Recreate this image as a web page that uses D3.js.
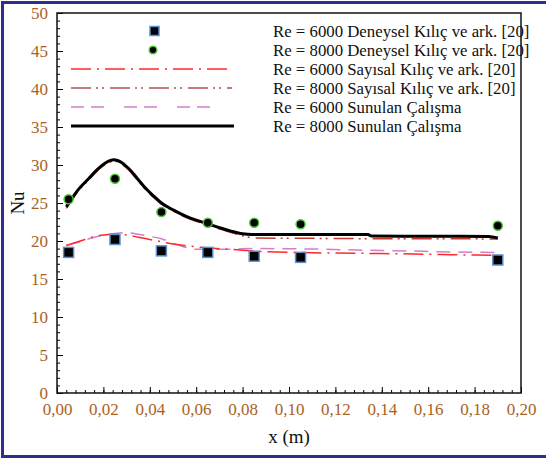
<!DOCTYPE html>
<html>
<head>
<meta charset="utf-8">
<script src="https://cdn.jsdelivr.net/npm/d3@7"></script>
<style>
  body { margin: 0; background: #fff; }
  svg text { font-family: "Liberation Serif", "Times New Roman", serif; }
</style>
</head>
<body>
<div id="nu_chart"></div>
<script>
// experimental points (x in m, Nu)
const expX = [0.005, 0.025, 0.045, 0.065, 0.085, 0.105, 0.19];
const exp6000 = [18.5, 20.2, 18.7, 18.5, 18.0, 17.85, 17.5];
const exp8000 = [25.5, 28.2, 23.8, 22.4, 22.4, 22.2, 22.0];

// numerical curves from Kılıç et al.
const num6000X = [0.004, 0.01, 0.015, 0.02, 0.025, 0.03, 0.035, 0.04, 0.045, 0.05, 0.055, 0.065, 0.075, 0.09, 0.11, 0.14, 0.17, 0.19];
const num6000Y = [19.4, 20.0, 20.5, 20.8, 20.9, 20.8, 20.5, 20.2, 19.9, 19.6, 19.4, 19.1, 18.9, 18.6, 18.45, 18.35, 18.2, 18.1];
const num8000X = [0.004, 0.006, 0.009, 0.0136, 0.017, 0.021, 0.0245, 0.028, 0.031, 0.0347, 0.038, 0.0417, 0.045, 0.05, 0.0557, 0.06, 0.065, 0.07, 0.075, 0.08, 0.085, 0.11, 0.14, 0.17, 0.19];
const num8000Y = [24.3, 25.2, 26.5, 28.0, 29.1, 30.1, 30.5, 30.1, 29.3, 28.0, 26.8, 25.7, 24.85, 23.95, 23.1, 22.6, 22.1, 21.6, 21.1, 20.7, 20.4, 20.35, 20.3, 20.3, 20.25];

// present study
const sun6000X = [0.004, 0.01, 0.015, 0.02, 0.025, 0.03, 0.035, 0.04, 0.045, 0.05, 0.055, 0.06, 0.07, 0.085, 0.11, 0.13, 0.15, 0.17, 0.19];
const sun6000Y = [19.4, 19.9, 20.4, 20.8, 21.0, 21.1, 20.9, 20.6, 20.3, 19.7, 19.2, 18.9, 18.9, 19.0, 18.95, 18.8, 18.7, 18.55, 18.5];
const sun8000X = [0.004, 0.006, 0.009, 0.0136, 0.017, 0.021, 0.0245, 0.028, 0.031, 0.0347, 0.038, 0.0417, 0.045, 0.05, 0.0557, 0.06, 0.065, 0.07, 0.075, 0.08, 0.084, 0.134, 0.1355, 0.186, 0.19];
const sun8000Y = [24.5, 25.4, 26.7, 28.2, 29.3, 30.3, 30.7, 30.3, 29.5, 28.2, 27.0, 25.9, 25.0, 24.1, 23.25, 22.75, 22.25, 21.75, 21.3, 20.95, 20.85, 20.85, 20.65, 20.6, 20.4];

const xTicks = [0, 0.02, 0.04, 0.06, 0.08, 0.10, 0.12, 0.14, 0.16, 0.18, 0.20];
const yTicks = [0, 5, 10, 15, 20, 25, 30, 35, 40, 45, 50];

const legendLabels = [
  "Re = 6000 Deneysel Kılıç ve ark. [20]",
  "Re = 8000 Deneysel Kılıç ve ark. [20]",
  "Re = 6000 Sayısal Kılıç ve ark. [20]",
  "Re = 8000 Sayısal Kılıç ve ark. [20]",
  "Re = 6000 Sunulan Çalışma",
  "Re = 8000 Sunulan Çalışma"
];

let width = 546,
    height = 459,
    margin = { top: 13, right: 14, bottom: 66, left: 57 };

const serif = "'Liberation Serif', 'Times New Roman', serif";

const svg = d3.select("#nu_chart")
  .append("svg")
  .attr("width", width)
  .attr("height", height);

// outer frame
svg.append("rect")
  .attr("x", 2.5).attr("y", 2.5)
  .attr("width", width + 10).attr("height", 454)
  .attr("fill", "none")
  .attr("stroke", "#2e2f8c")
  .attr("stroke-width", 3);

let x = d3.scaleLinear()
  .domain([0, 0.2])
  .range([margin.left, width - margin.right - 11]);

let y = d3.scaleLinear()
  .domain([0, 50])
  .range([height - margin.bottom, margin.top]);

const tickColor = "#a8621f";

// minor ticks
svg.append("g")
  .attr("transform", `translate(${margin.left},0)`)
  .call(d3.axisLeft(y).tickValues(d3.range(0, 51, 1)).tickSize(-3).tickFormat(""))
  .call(g => g.select(".domain").remove());

svg.append("g")
  .attr("transform", `translate(0,${y(0)})`)
  .call(d3.axisBottom(x).tickValues(d3.range(0, 51).map(i => i * 0.004)).tickSize(-3).tickFormat(""))
  .call(g => g.select(".domain").remove());

// major ticks + labels
svg.append("g")
  .attr("class", "y-axis")
  .attr("transform", `translate(${margin.left},0)`)
  .call(d3.axisLeft(y).tickValues(yTicks).tickSize(-6).tickPadding(9).tickFormat(d3.format("d")))
  .call(g => g.select(".domain").remove())
  .attr("font-family", serif)
  .attr("font-size", 17)
  .selectAll("text")
    .attr("fill", tickColor);

svg.append("g")
  .attr("class", "x-axis")
  .attr("transform", `translate(0,${y(0)})`)
  .call(d3.axisBottom(x).tickValues(xTicks).tickSize(-6).tickPadding(10)
    .tickFormat(d => d3.format(".2f")(d).replace(".", ",")))
  .call(g => g.select(".domain").remove())
  .attr("font-family", serif)
  .attr("font-size", 17)
  .selectAll("text")
    .attr("fill", tickColor);

// plot box
svg.append("rect")
  .attr("x", x(0)).attr("y", y(50))
  .attr("width", x(0.2) - x(0)).attr("height", y(0) - y(50))
  .attr("fill", "none")
  .attr("stroke", "#111")
  .attr("stroke-width", 1.5);

const line = d3.line()
  .x(d => x(d[0]))
  .y(d => y(d[1]))
  .curve(d3.curveMonotoneX);

const series = [
  { xs: sun6000X, ys: sun6000Y, color: "#d37fcb", width: 1.5, dash: "14,8" },
  { xs: num6000X, ys: num6000Y, color: "#ff2a2a", width: 1.5, dash: "20,6,2,6" },
  { xs: num8000X, ys: num8000Y, color: "#c0392b", width: 1.5, dash: "20,5,2,4,2,6" },
  { xs: sun8000X, ys: sun8000Y, color: "#000", width: 3, dash: null }
];

series.forEach(s => {
  svg.append("path")
    .datum(s.xs.map((v, i) => [v, s.ys[i]]))
    .attr("fill", "none")
    .attr("stroke", s.color)
    .attr("stroke-width", s.width)
    .attr("stroke-dasharray", s.dash)
    .attr("d", line);
});

// experimental markers
svg.append("g")
  .selectAll("rect")
  .data(expX.map((v, i) => [v, exp6000[i]]))
  .join("rect")
    .attr("x", d => x(d[0]) - 5)
    .attr("y", d => y(d[1]) - 5)
    .attr("width", 10)
    .attr("height", 10)
    .attr("fill", "#000")
    .attr("stroke", "#5b8fd0")
    .attr("stroke-width", 1.5);

svg.append("g")
  .selectAll("circle")
  .data(expX.map((v, i) => [v, exp8000[i]]))
  .join("circle")
    .attr("cx", d => x(d[0]))
    .attr("cy", d => y(d[1]))
    .attr("r", 4.5)
    .attr("fill", "#000")
    .attr("stroke", "#4fc23a")
    .attr("stroke-width", 1.5);

// legend
let legend = svg.append("g")
  .attr("class", "legend")
  .attr("font-family", serif);

const rowY = i => 31 + i * 19;

legend.selectAll("text")
  .data(legendLabels)
  .join("text")
    .attr("x", 273)
    .attr("y", (d, i) => rowY(i))
    .attr("dy", "0.35em")
    .attr("font-size", 16.8)
    .attr("fill", "#111")
    .text(d => d);

legend.append("rect")
  .attr("x", 150).attr("y", rowY(0) - 4.5)
  .attr("width", 9).attr("height", 9)
  .attr("fill", "#000")
  .attr("stroke", "#5b8fd0")
  .attr("stroke-width", 1.5);

legend.append("circle")
  .attr("cx", 153).attr("cy", rowY(1))
  .attr("r", 3.8)
  .attr("fill", "#000")
  .attr("stroke", "#4fc23a")
  .attr("stroke-width", 1.5);

const legendLines = [
  { row: 2, color: "#ff2a2a", width: 1.5, dash: "20,6,2,6", x2: 230 },
  { row: 3, color: "#b05050", width: 1.5, dash: "20,5,2,4,2,6", x2: 232 },
  { row: 4, color: "#d37fcb", width: 1.5, dash: "13,7,13,20", x2: 218 },
  { row: 5, color: "#000", width: 3, dash: null, x2: 234 }
];

legendLines.forEach(l => {
  legend.append("line")
    .attr("x1", 71).attr("x2", l.x2)
    .attr("y1", rowY(l.row)).attr("y2", rowY(l.row))
    .attr("stroke", l.color)
    .attr("stroke-width", l.width)
    .attr("stroke-dasharray", l.dash);
});

// axis titles
svg.append("text")
  .attr("x", (x(0) + x(0.2)) / 2)
  .attr("y", 443)
  .attr("text-anchor", "middle")
  .attr("font-family", serif)
  .attr("font-size", 19)
  .attr("fill", "#111")
  .text("x (m)");

svg.append("text")
  .attr("transform", `translate(24,${y(25)}) rotate(-90)`)
  .attr("text-anchor", "middle")
  .attr("font-family", serif)
  .attr("font-size", 19)
  .attr("fill", "#111")
  .text("Nu");
</script>
</body>
</html>
